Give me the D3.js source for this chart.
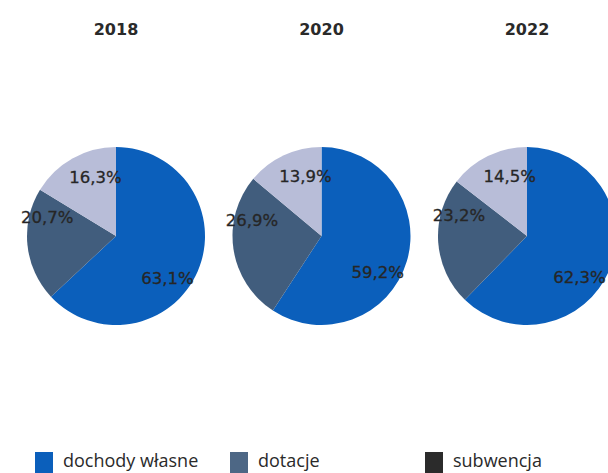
<!DOCTYPE html>
<html><head><meta charset="utf-8">
<script src="https://cdn.jsdelivr.net/npm/d3@7"></script>
<style>body{margin:0;background:#fff}svg{display:block}</style>
</head><body>
<svg id="c" width="608" height="473"></svg>
<script>
const years = ["2018", "2020", "2022"];
const categories = ["dochody własne", "dotacje", "subwencja"];
const values2018 = [63.1, 20.7, 16.3];
const values2020 = [59.2, 26.9, 13.9];
const values2022 = [62.3, 23.2, 14.5];
const seriesValues = [values2018, values2020, values2022];

const colors = ["#0b5fbb", "#415d7d", "#b8bdd8"];
const legendColors = ["#0b5fbb", "#4d6785", "#2b2b2b"];

const svg = d3.select("#c");
const r = 89;
const cx = d3.scalePoint().domain(years).range([116, 527]);
const cy = 236;

const pie = d3.pie().sort(null).value(d => d);
const arc = d3.arc().innerRadius(0).outerRadius(r);
// label layout: angle shift (deg) and radius factor per slice
const labelShift = [16, 21, 10];
const labelRad = [0.75, 0.8, 0.7];
const fmt = v => d3.format(".1f")(v).replace(".", ",") + "%";

years.forEach((y, i) => {
  const g = svg.append("g").attr("transform", `translate(${cx(y)},${cy})`);
  const arcs = pie(seriesValues[i]);
  g.selectAll("path").data(arcs).join("path")
    .attr("d", arc).attr("fill", (d, j) => colors[j]);
  g.selectAll("text").data(arcs).join("text")
    .attr("transform", (d, j) => {
      const a = (d.startAngle + d.endAngle) / 2 + labelShift[j] * Math.PI / 180;
      const rr = r * labelRad[j];
      return `translate(${rr * Math.sin(a)},${-rr * Math.cos(a)})`;
    })
    .attr("text-anchor", "middle").attr("dy", "0.36em")
    .attr("font-family", "DejaVu Sans").attr("font-size", 16.5)
    .attr("stroke", "#262626").attr("stroke-width", 0.3)
    .attr("fill", "#262626")
    .text(d => fmt(d.data));
  svg.append("text").attr("x", cx(y)).attr("y", 35)
    .attr("text-anchor", "middle")
    .attr("font-family", "DejaVu Sans").attr("font-weight", "bold")
    .attr("font-size", 16).attr("fill", "#2a2a2a").text(y);
});

const legendX = [35, 230, 425];
const lg = svg.append("g");
categories.forEach((c, j) => {
  lg.append("rect").attr("x", legendX[j]).attr("y", 452).attr("width", 18).attr("height", 21)
    .attr("fill", legendColors[j]);
  lg.append("text").attr("x", legendX[j] + 28).attr("y", 467)
    .attr("font-family", "Open Sans").attr("font-size", 18).attr("fill", "#2a2a2a").text(c);
});
</script>
</body></html>
